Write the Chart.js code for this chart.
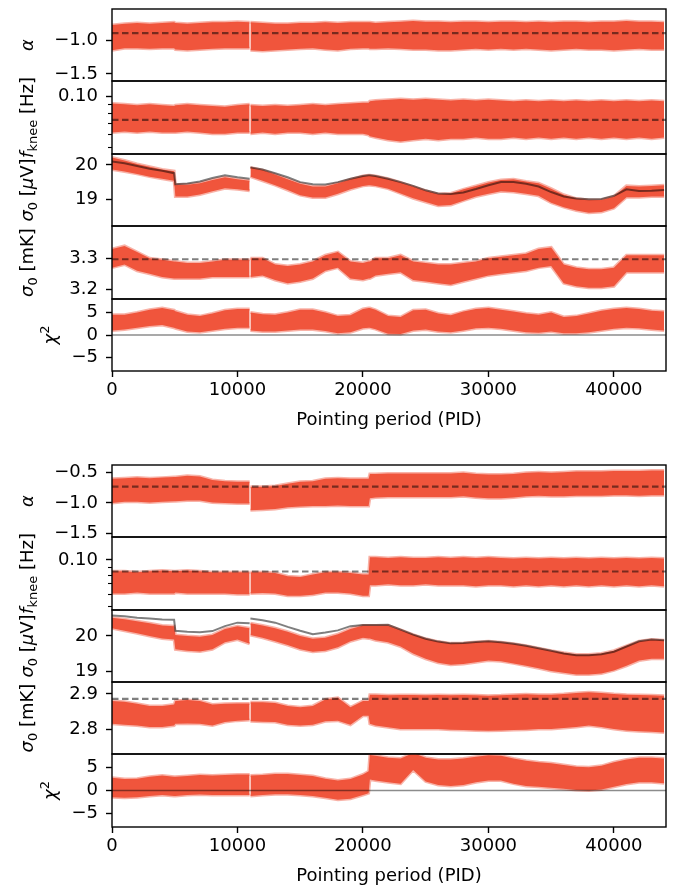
<!DOCTYPE html>
<html>
<head>
<meta charset="utf-8">
<script src="https://cdn.jsdelivr.net/npm/chart.js@4.4.0/dist/chart.umd.min.js"></script>
<style>
  body { margin: 0; background: #fff; }
  #wrap { position: relative; width: 681px; height: 890px; overflow: hidden; }
  #wrap canvas { position: absolute; left: 0; }
</style>
</head>
<body>
<div id="wrap"></div>
<script>
// pointing period grid (PID), null at 11000 = data gap
const PID = [
  0, 1000, 2000, 3000, 4000, 4950, 5050, 6000, 7000, 8000,
  9000, 10000, 10970, 11000, 11030, 12000, 13000, 14000, 15000, 16000,
  17000, 18000, 19000, 20000, 20450, 20550, 21000, 22000, 23000, 24000,
  25000, 26000, 27000, 28000, 29000, 30000, 31000, 32000, 33000, 34000,
  35000, 36000, 37000, 38000, 39000, 40000, 41000, 42000, 43000, 44000
];
const X_TICKS = [0, 10000, 20000, 30000, 40000];
const X_TITLE = 'Pointing period (PID)';

// ---- top group ----
const T_ALPHA_HI = [
  -0.78, -0.76, -0.75, -0.76, -0.75, -0.74, -0.75, -0.76, -0.75, -0.74,
  -0.74, -0.73, -0.74, null, -0.74, -0.75, -0.76, -0.76, -0.75, -0.75,
  -0.74, -0.75, -0.74, -0.74, -0.74, -0.74, -0.75, -0.74, -0.73, -0.72,
  -0.73, -0.73, -0.74, -0.73, -0.73, -0.74, -0.73, -0.73, -0.74, -0.73,
  -0.74, -0.73, -0.73, -0.74, -0.73, -0.73, -0.72, -0.73, -0.73, -0.74
];
const T_ALPHA_LO = [
  -1.15, -1.12, -1.12, -1.13, -1.12, -1.12, -1.14, -1.15, -1.14, -1.13,
  -1.12, -1.12, -1.12, null, -1.15, -1.16, -1.15, -1.14, -1.13, -1.12,
  -1.14, -1.15, -1.13, -1.12, -1.12, -1.13, -1.13, -1.12, -1.13, -1.14,
  -1.14, -1.15, -1.15, -1.14, -1.13, -1.14, -1.13, -1.14, -1.13, -1.14,
  -1.15, -1.14, -1.13, -1.14, -1.14, -1.15, -1.14, -1.13, -1.14, -1.14
];
const T_ALPHA_REF = -0.90;

const T_FKNEE_HI = [
  0.091, 0.090, 0.089, 0.090, 0.089, 0.088, 0.089, 0.090, 0.089, 0.088,
  0.087, 0.089, 0.090, null, 0.089, 0.088, 0.089, 0.088, 0.089, 0.090,
  0.089, 0.090, 0.091, 0.092, 0.092, 0.094, 0.095, 0.096, 0.097, 0.096,
  0.097, 0.096, 0.095, 0.096, 0.095, 0.096, 0.095, 0.094, 0.095, 0.094,
  0.095, 0.094, 0.095, 0.094, 0.095, 0.094, 0.095, 0.094, 0.095, 0.094
];
const T_FKNEE_LO = [
  0.061, 0.062, 0.061, 0.062, 0.061, 0.061, 0.061, 0.062, 0.061, 0.060,
  0.060, 0.061, 0.061, null, 0.060, 0.061, 0.060, 0.061, 0.061, 0.060,
  0.061, 0.060, 0.060, 0.060, 0.059, 0.058, 0.057, 0.055, 0.054, 0.055,
  0.056, 0.055, 0.056, 0.056, 0.057, 0.056, 0.056, 0.057, 0.056, 0.057,
  0.056, 0.057, 0.056, 0.057, 0.056, 0.057, 0.056, 0.057, 0.056, 0.057
];
const T_FKNEE_REF = 0.0727;

const T_SIGUV_MODEL = [
  20.10, 20.05, 19.97, 19.89, 19.83, 19.76, 19.44, 19.46, 19.52, 19.62,
  19.70, 19.64, 19.60, null, 19.93, 19.87, 19.76, 19.64, 19.50, 19.44,
  19.43, 19.50, 19.60, 19.68, 19.70, 19.70, 19.68, 19.60, 19.50, 19.39,
  19.26, 19.17, 19.15, 19.20, 19.30, 19.41, 19.50, 19.50, 19.45, 19.37,
  19.21, 19.08, 19.02, 19.00, 19.01, 19.10, 19.29, 19.24, 19.25, 19.27
];
const T_SIGUV_HI = [
  20.22, 20.13, 20.03, 19.95, 19.87, 19.82, 19.42, 19.42, 19.47, 19.56,
  19.64, 19.58, 19.54, null, 19.93, 19.85, 19.72, 19.58, 19.45, 19.37,
  19.37, 19.47, 19.58, 19.68, 19.70, 19.70, 19.68, 19.60, 19.49, 19.37,
  19.25, 19.15, 19.17, 19.29, 19.39, 19.49, 19.56, 19.58, 19.52, 19.47,
  19.31, 19.13, 19.02, 18.98, 18.98, 19.08, 19.39, 19.37, 19.39, 19.41
];
const T_SIGUV_LO = [
  19.87, 19.81, 19.74, 19.66, 19.60, 19.54, 19.08, 19.08, 19.14, 19.23,
  19.32, 19.29, 19.25, null, 19.66, 19.54, 19.41, 19.27, 19.12, 19.05,
  19.05, 19.16, 19.29, 19.39, 19.41, 19.41, 19.39, 19.31, 19.17, 19.03,
  18.92, 18.81, 18.83, 18.96, 19.08, 19.16, 19.23, 19.21, 19.16, 19.10,
  18.90, 18.77, 18.67, 18.61, 18.63, 18.74, 19.06, 19.06, 19.08, 19.08
];

const T_SIGMK_HI = [
  3.33, 3.34, 3.32, 3.30, 3.295, 3.29, 3.29, 3.285, 3.285, 3.29,
  3.295, 3.295, 3.295, null, 3.30, 3.30, 3.28, 3.275, 3.28, 3.29,
  3.31, 3.32, 3.29, 3.285, 3.29, 3.29, 3.30, 3.30, 3.31, 3.29,
  3.285, 3.28, 3.28, 3.285, 3.29, 3.30, 3.305, 3.31, 3.315, 3.33,
  3.335, 3.28, 3.27, 3.265, 3.265, 3.27, 3.31, 3.31, 3.31, 3.31
];
const T_SIGMK_LO = [
  3.27, 3.28, 3.26, 3.25, 3.24, 3.235, 3.235, 3.235, 3.235, 3.24,
  3.24, 3.24, 3.24, null, 3.24, 3.245, 3.23, 3.22, 3.225, 3.235,
  3.26, 3.27, 3.235, 3.23, 3.235, 3.235, 3.245, 3.25, 3.255, 3.23,
  3.225, 3.22, 3.215, 3.225, 3.235, 3.245, 3.25, 3.255, 3.26, 3.27,
  3.275, 3.22, 3.21, 3.205, 3.205, 3.21, 3.255, 3.255, 3.255, 3.255
];
const T_SIGMK_REF = 3.297;

const T_CHI2_HI = [
  4.5, 4.5, 5.0, 5.6, 6.0, 5.5, 5.3, 4.5, 4.2, 4.8,
  5.5, 5.8, 5.8, null, 5.0, 4.6, 4.5, 5.0, 5.6, 5.6,
  5.0, 4.2, 4.4, 5.8, 6.0, 6.0, 5.6, 4.2, 4.0, 5.5,
  5.6, 4.8, 4.4, 5.2, 5.8, 6.0, 5.6, 5.2, 4.8, 4.5,
  5.0, 4.0, 4.2, 4.8, 5.4, 5.8, 6.0, 5.8, 5.4, 5.2
];
const T_CHI2_LO = [
  1.0, 1.2, 1.6, 2.0, 2.2, 1.6, 1.5, 0.8, 0.6, 1.0,
  1.4, 1.6, 1.6, null, 1.0, 0.8, 0.8, 1.0, 1.2, 1.2,
  0.9, 0.4, 0.6, 1.5, 1.6, 1.6, 1.3, 0.3, 0.2, 1.0,
  1.2, 0.8, 0.6, 1.0, 1.5, 1.6, 1.4, 1.0, 0.6, 0.5,
  0.8, 0.4, 0.4, 0.6, 1.0, 1.4, 1.6, 1.5, 1.2, 1.0
];

// ---- bottom group ----
const B_ALPHA_HI = [
  -0.60, -0.59, -0.58, -0.59, -0.58, -0.57, -0.57, -0.55, -0.56, -0.62,
  -0.64, -0.65, -0.65, null, -0.73, -0.73, -0.72, -0.68, -0.65, -0.64,
  -0.60, -0.59, -0.60, -0.60, -0.60, -0.52, -0.52, -0.51, -0.51, -0.51,
  -0.51, -0.51, -0.51, -0.50, -0.52, -0.53, -0.53, -0.52, -0.50, -0.49,
  -0.50, -0.49, -0.48, -0.48, -0.48, -0.47, -0.47, -0.47, -0.46, -0.46
];
const B_ALPHA_LO = [
  -1.00, -0.98, -0.98, -0.99, -0.98, -0.97, -0.97, -0.96, -0.96, -0.99,
  -1.00, -1.01, -1.01, null, -1.12, -1.11, -1.10, -1.07, -1.06, -1.05,
  -1.05, -1.04, -1.05, -1.05, -1.05, -0.92, -0.91, -0.90, -0.90, -0.90,
  -0.90, -0.90, -0.90, -0.89, -0.91, -0.92, -0.92, -0.91, -0.89, -0.88,
  -0.89, -0.89, -0.88, -0.88, -0.88, -0.87, -0.87, -0.88, -0.87, -0.87
];
const B_ALPHA_REF = -0.73;

const B_FKNEE_HI = [
  0.084, 0.084, 0.083, 0.084, 0.085, 0.084, 0.084, 0.085, 0.084, 0.083,
  0.083, 0.083, 0.083, null, 0.083, 0.083, 0.082, 0.078, 0.077, 0.080,
  0.083, 0.083, 0.082, 0.080, 0.080, 0.104, 0.104, 0.103, 0.104, 0.103,
  0.103, 0.104, 0.103, 0.104, 0.103, 0.104, 0.103, 0.102, 0.103, 0.102,
  0.103, 0.102, 0.103, 0.102, 0.103, 0.102, 0.103, 0.102, 0.103, 0.102
];
const B_FKNEE_LO = [
  0.060, 0.060, 0.061, 0.060, 0.060, 0.060, 0.061, 0.060, 0.060, 0.060,
  0.060, 0.0595, 0.0595, null, 0.060, 0.0605, 0.060, 0.058, 0.058, 0.059,
  0.061, 0.061, 0.060, 0.058, 0.058, 0.068, 0.068, 0.069, 0.068, 0.068,
  0.069, 0.068, 0.068, 0.068, 0.067, 0.068, 0.068, 0.067, 0.068, 0.067,
  0.068, 0.067, 0.068, 0.067, 0.068, 0.067, 0.068, 0.067, 0.068, 0.067
];
const B_FKNEE_REF = 0.0838;

const B_SIGUV_MODEL = [
  20.58, 20.56, 20.52, 20.50, 20.47, 20.46, 20.15, 20.12, 20.11, 20.14,
  20.28, 20.38, 20.36, null, 20.50, 20.45, 20.38, 20.26, 20.15, 20.05,
  20.10, 20.16, 20.28, 20.31, 20.31, 20.31, 20.31, 20.32, 20.18, 20.04,
  19.92, 19.84, 19.79, 19.80, 19.83, 19.85, 19.82, 19.78, 19.72, 19.65,
  19.58, 19.50, 19.45, 19.45, 19.48, 19.55, 19.70, 19.85, 19.90, 19.88
];
const B_SIGUV_HI = [
  20.52, 20.48, 20.42, 20.36, 20.30, 20.28, 20.03, 20.00, 19.98, 20.03,
  20.20, 20.28, 20.22, null, 20.36, 20.30, 20.22, 20.12, 20.00, 19.92,
  19.95, 20.05, 20.20, 20.30, 20.30, 20.30, 20.30, 20.30, 20.17, 20.04,
  19.92, 19.84, 19.79, 19.80, 19.83, 19.85, 19.82, 19.78, 19.72, 19.65,
  19.58, 19.52, 19.47, 19.47, 19.50, 19.58, 19.72, 19.85, 19.90, 19.88
];
const B_SIGUV_LO = [
  20.22, 20.15, 20.08, 20.00, 19.93, 19.90, 19.62, 19.58, 19.56, 19.62,
  19.82, 19.90, 19.78, null, 20.03, 19.95, 19.85, 19.74, 19.62, 19.55,
  19.58, 19.68, 19.85, 19.95, 19.93, 19.93, 19.88, 19.82, 19.70, 19.50,
  19.35, 19.24, 19.18, 19.20, 19.25, 19.30, 19.28, 19.22, 19.15, 19.08,
  19.00, 18.95, 18.90, 18.90, 18.93, 19.02, 19.15, 19.30, 19.35, 19.35
];

const B_SIGMK_HI = [
  2.880, 2.878, 2.872, 2.866, 2.866, 2.870, 2.880, 2.883, 2.880, 2.870,
  2.872, 2.873, 2.873, null, 2.876, 2.876, 2.874, 2.866, 2.862, 2.866,
  2.884, 2.889, 2.862, 2.880, 2.880, 2.898, 2.898, 2.896, 2.897, 2.897,
  2.896, 2.897, 2.896, 2.897, 2.896, 2.895, 2.896, 2.898, 2.899, 2.898,
  2.898, 2.900, 2.903, 2.905, 2.903, 2.900, 2.898, 2.897, 2.896, 2.895
];
const B_SIGMK_LO = [
  2.815, 2.812, 2.810, 2.806, 2.806, 2.810, 2.815, 2.816, 2.815, 2.810,
  2.820, 2.824, 2.826, null, 2.822, 2.821, 2.820, 2.812, 2.810, 2.812,
  2.822, 2.824, 2.812, 2.838, 2.838, 2.815, 2.810, 2.805, 2.800, 2.800,
  2.800, 2.800, 2.798, 2.797, 2.796, 2.795, 2.796, 2.797, 2.798, 2.800,
  2.800, 2.803, 2.806, 2.810, 2.806, 2.800, 2.796, 2.794, 2.792, 2.790
];
const B_SIGMK_REF = 2.886;

const B_CHI2_HI = [
  2.8, 2.5, 2.6, 3.0, 3.3, 3.0, 3.0, 3.2, 3.4, 3.3,
  3.4, 3.5, 3.5, null, 3.3, 3.4, 3.6, 3.6, 3.4, 3.2,
  2.6, 2.2, 2.5, 3.5, 4.2, 7.8, 7.6, 7.2, 7.0, 8.2,
  7.2, 6.8, 6.8, 7.0, 7.4, 7.7, 7.6, 7.0, 6.5, 6.2,
  6.0, 5.6, 5.2, 5.1, 5.4, 6.2, 6.8, 7.2, 7.2, 7.0
];
const B_CHI2_LO = [
  -1.5, -1.6, -1.5, -1.2, -1.0, -1.2, -1.2, -1.0, -0.9, -1.0,
  -1.0, -1.0, -1.0, null, -1.2, -1.0, -0.8, -0.8, -1.0, -1.2,
  -1.6, -2.0, -1.8, -1.0, -0.6, 2.4, 2.2, 1.8, 1.5, 4.5,
  2.0, 1.2, 1.0, 1.2, 1.8, 2.2, 2.2, 1.5, 1.0, 0.8,
  0.6, 0.4, 0.1, 0.0, 0.2, 0.8, 1.4, 1.8, 1.8, 1.6
];
const CHI2_REF = 0;

// tick values / labels
const ALPHA_T_TICKS = [-1.5, -1.0];
const ALPHA_T_LABELS = ['\u22121.5', '\u22121.0'];
const ALPHA_B_TICKS = [-1.5, -1.0, -0.5];
const ALPHA_B_LABELS = ['\u22121.5', '\u22121.0', '\u22120.5'];
const FKNEE_TICKS = [0.1];
const FKNEE_LABELS = ['0.10'];
const FKNEE_MINOR = [0.09, 0.08, 0.07, 0.06, 0.05];
const SIGUV_TICKS = [19, 20];
const SIGUV_LABELS = ['19', '20'];
const SIGMK_T_TICKS = [3.2, 3.3];
const SIGMK_T_LABELS = ['3.2', '3.3'];
const SIGMK_B_TICKS = [2.8, 2.9];
const SIGMK_B_LABELS = ['2.8', '2.9'];
const CHI2_TICKS = [-5, 0, 5];
const CHI2_LABELS = ['\u22125', '0', '5'];

// axis labels (parts: i = italic, sub / sup)
const LBL_ALPHA = [{ t: '\u03b1', i: true }];
const LBL_FKNEE = [{ t: 'f', i: true }, { t: 'knee', sub: true }, { t: ' [Hz]' }];
const LBL_SIGUV = [{ t: '\u03c3', i: true }, { t: '0', sub: true }, { t: ' [' }, { t: '\u03bc', i: true }, { t: 'V]' }];
const LBL_SIGMK = [{ t: '\u03c3', i: true }, { t: '0', sub: true }, { t: ' [mK]' }];
const LBL_CHI2 = [{ t: '\u03c7', i: true }, { t: '2', sup: true }];

// style / layout
const RED = '#f0553c';
const RED_EDGE = 'rgba(240,85,60,0.45)';
const REFCOL = 'rgba(0,0,0,0.5)';
const FONT = { family: '"DejaVu Sans", "Noto Sans", sans-serif', size: 18 };
const XMAX = 44150;
const PAD = 40;
const XAX_H = 62;

const PANELS = [
  { top: 9,   h: 72, type: 'linear', min: -1.603, max: -0.544, ticks: ALPHA_T_TICKS, labels: ALPHA_T_LABELS,
    hi: T_ALPHA_HI, lo: T_ALPHA_LO, ref: T_ALPHA_REF, lbl: LBL_ALPHA, lx: 27 },
  { top: 81,  h: 73, type: 'logarithmic', min: 0.0454, max: 0.1242, ticks: FKNEE_TICKS, labels: FKNEE_LABELS, minor: FKNEE_MINOR,
    hi: T_FKNEE_HI, lo: T_FKNEE_LO, ref: T_FKNEE_REF, lbl: LBL_FKNEE, lx: 27 },
  { top: 154, h: 72, type: 'linear', min: 18.22, max: 20.32, ticks: SIGUV_TICKS, labels: SIGUV_LABELS,
    hi: T_SIGUV_HI, lo: T_SIGUV_LO, model: T_SIGUV_MODEL, lbl: LBL_SIGUV, lx: 27 },
  { top: 226, h: 73, type: 'linear', min: 3.169, max: 3.404, ticks: SIGMK_T_TICKS, labels: SIGMK_T_LABELS,
    hi: T_SIGMK_HI, lo: T_SIGMK_LO, ref: T_SIGMK_REF, lbl: LBL_SIGMK, lx: 27 },
  { top: 299, h: 72, type: 'linear', min: -8, max: 8, ticks: CHI2_TICKS, labels: CHI2_LABELS,
    hi: T_CHI2_HI, lo: T_CHI2_LO, zero: CHI2_REF, lbl: LBL_CHI2, lx: 50, bottom: true },

  { top: 465, h: 72, type: 'linear', min: -1.563, max: -0.371, ticks: ALPHA_B_TICKS, labels: ALPHA_B_LABELS,
    hi: B_ALPHA_HI, lo: B_ALPHA_LO, ref: B_ALPHA_REF, lbl: LBL_ALPHA, lx: 27 },
  { top: 537, h: 73, type: 'logarithmic', min: 0.0468, max: 0.1413, ticks: FKNEE_TICKS, labels: FKNEE_LABELS, minor: FKNEE_MINOR,
    hi: B_FKNEE_HI, lo: B_FKNEE_LO, ref: B_FKNEE_REF, lbl: LBL_FKNEE, lx: 27 },
  { top: 610, h: 72, type: 'linear', min: 18.69, max: 20.74, ticks: SIGUV_TICKS, labels: SIGUV_LABELS,
    hi: B_SIGUV_HI, lo: B_SIGUV_LO, model: B_SIGUV_MODEL, lbl: LBL_SIGUV, lx: 27 },
  { top: 682, h: 72, type: 'linear', min: 2.729, max: 2.934, ticks: SIGMK_B_TICKS, labels: SIGMK_B_LABELS,
    hi: B_SIGMK_HI, lo: B_SIGMK_LO, ref: B_SIGMK_REF, lbl: LBL_SIGMK, lx: 27 },
  { top: 754, h: 73, type: 'linear', min: -8, max: 8, ticks: CHI2_TICKS, labels: CHI2_LABELS,
    hi: B_CHI2_HI, lo: B_CHI2_LO, zero: CHI2_REF, lbl: LBL_CHI2, lx: 50, bottom: true }
];

// rotated axis label with italic / sub / superscript parts
function drawLabel(ctx, parts, cx, cy) {
  const fontFor = q => (q.i ? 'italic ' : '') + ((q.sub || q.sup) ? 13 : 18) + 'px ' + FONT.family;
  ctx.save();
  ctx.translate(cx, cy);
  ctx.rotate(-Math.PI / 2);
  ctx.fillStyle = '#000';
  ctx.textBaseline = 'alphabetic';
  ctx.textAlign = 'left';
  let w = 0;
  parts.forEach(q => { ctx.font = fontFor(q); w += ctx.measureText(q.t).width; });
  let x = -w / 2;
  parts.forEach(q => {
    ctx.font = fontFor(q);
    const dy = q.sub ? 4 : (q.sup ? -7 : 0);
    ctx.fillText(q.t, x, 6 + dy);
    x += ctx.measureText(q.t).width;
  });
  ctx.restore();
}

const panelPlugin = {
  id: 'panel',
  afterDraw(chart, args, opts) {
    const { ctx, chartArea: a } = chart;
    const p = opts.p;
    ctx.save();
    // minor ticks on log axes
    if (p.minor) {
      const y = chart.scales.y;
      ctx.strokeStyle = '#000';
      ctx.lineWidth = 1.1;
      p.minor.forEach(v => {
        const py = Math.round(y.getPixelForValue(v)) + 0.5;
        ctx.beginPath();
        ctx.moveTo(a.left - 4, py);
        ctx.lineTo(a.left, py);
        ctx.stroke();
      });
    }
    // frame
    ctx.strokeStyle = '#000';
    ctx.lineWidth = 1.4;
    ctx.strokeRect(a.left, a.top, a.right - a.left, a.bottom - a.top);
    ctx.restore();
    drawLabel(ctx, p.lbl, p.lx, (a.top + a.bottom) / 2);
  }
};

const wrap = document.getElementById('wrap');

function pts(arr) {
  return PID.map((x, i) => ({ x: x, y: arr[i] }));
}

PANELS.forEach(p => {
  const c = document.createElement('canvas');
  const H = PAD + p.h + (p.bottom ? XAX_H + 2 : PAD);
  c.width = 681;
  c.height = H;
  c.style.top = (p.top - PAD) + 'px';
  wrap.appendChild(c);

  const datasets = [
    { data: pts(p.hi), borderColor: RED_EDGE, backgroundColor: RED, borderWidth: 3, fill: '+1', order: 3 },
    { data: pts(p.lo), borderColor: RED_EDGE, backgroundColor: RED, borderWidth: 3, fill: false, order: 3 }
  ];
  if (p.model) {
    datasets.push({ data: pts(p.model), borderColor: REFCOL, borderWidth: 2, fill: false, order: 1 });
  }
  if (p.ref !== undefined) {
    datasets.push({ data: [{ x: 0, y: p.ref }, { x: XMAX, y: p.ref }], borderColor: REFCOL,
      borderWidth: 2.2, borderDash: [6.5, 3.5], fill: false, order: 1 });
  }
  if (p.zero !== undefined) {
    datasets.push({ data: [{ x: 0, y: p.zero }, { x: XMAX, y: p.zero }], borderColor: 'rgba(0,0,0,0.45)',
      borderWidth: 1.3, fill: false, order: 1 });
  }

  new Chart(c.getContext('2d'), {
    type: 'line',
    data: { datasets: datasets },
    plugins: [panelPlugin],
    options: {
      responsive: false,
      animation: false,
      devicePixelRatio: 1,
      layout: { padding: { left: 0, right: 15, top: PAD, bottom: p.bottom ? 2 : PAD } },
      elements: { point: { radius: 0 }, line: { tension: 0, borderCapStyle: 'butt' } },
      plugins: { legend: { display: false }, tooltip: { enabled: false }, panel: { p: p } },
      scales: {
        x: {
          type: 'linear',
          min: 0,
          max: XMAX,
          display: !!p.bottom,
          afterBuildTicks: s => { s.ticks = X_TICKS.map(v => ({ value: v })); },
          afterFit: s => { if (p.bottom) s.height = XAX_H; },
          grid: { display: true, drawOnChartArea: false, drawTicks: true, tickLength: 6, tickColor: '#000', tickWidth: 1.4 },
          border: { display: false },
          ticks: { font: FONT, color: '#000', padding: 3, maxRotation: 0, autoSkip: false, callback: v => String(v) },
          title: { display: true, text: X_TITLE, font: FONT, color: '#000', padding: { top: 0, bottom: 2 } }
        },
        y: {
          type: p.type,
          min: p.min,
          max: p.max,
          afterBuildTicks: s => { s.ticks = p.ticks.map(v => ({ value: v })); },
          afterFit: s => { s.width = 112; },
          grid: { display: true, drawOnChartArea: false, drawTicks: true, tickLength: 6, tickColor: '#000', tickWidth: 1.4 },
          border: { display: false },
          ticks: { font: FONT, color: '#000', padding: 8, autoSkip: false, callback: (v, i) => p.labels[i] }
        }
      }
    }
  });
});
</script>
</body>
</html>
